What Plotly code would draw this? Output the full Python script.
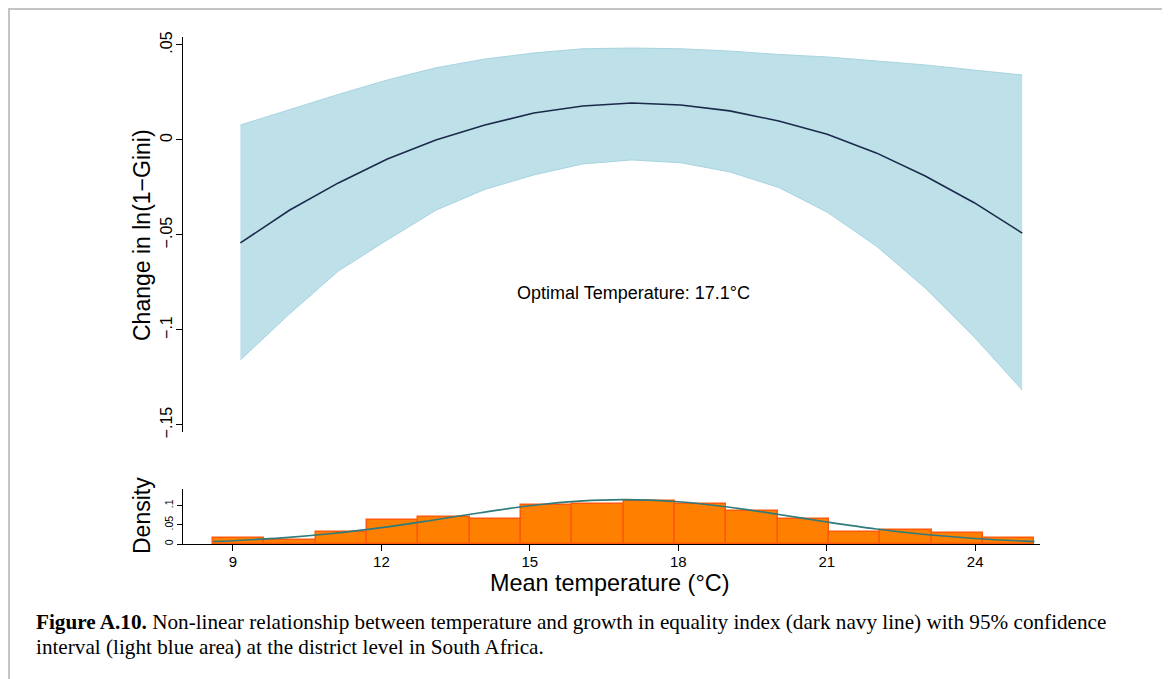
import plotly.graph_objects as go

# ---- data ----
temp = [9.15, 10.14, 11.13, 12.12, 13.10, 14.09, 15.08, 16.07, 17.06,
        18.05, 19.04, 20.03, 21.01, 22.00, 22.99, 23.98, 24.95]
effect = [-0.0542, -0.0370, -0.0226, -0.0100, 0.0000, 0.0079, 0.0142, 0.0179, 0.0195,
          0.0184, 0.0153, 0.0100, 0.0030, -0.0068, -0.0190, -0.0330, -0.0490]
upper = [0.0079, 0.0160, 0.0240, 0.0316, 0.0380, 0.0426, 0.0458, 0.0480, 0.0484,
         0.0480, 0.0468, 0.0450, 0.0437, 0.0416, 0.0395, 0.0368, 0.0342]
lower = [-0.1158, -0.0916, -0.0690, -0.0526, -0.0370, -0.0260, -0.0184, -0.0126, -0.0105,
         -0.0120, -0.0168, -0.0250, -0.0380, -0.0558, -0.0779, -0.1037, -0.1316]

bin_start = 8.6
bin_width = 1.037
hist_density = [0.0148, 0.0096, 0.032, 0.061, 0.069, 0.0655, 0.1017, 0.104,
                0.112, 0.104, 0.0864, 0.065, 0.032, 0.035, 0.028, 0.015]

curve_x = [8.6, 9, 10, 11, 12, 13, 14, 15, 16, 16.9, 18, 19, 20, 21, 22, 23, 24, 25, 25.2]
curve_y = [0.0066, 0.0086, 0.0159, 0.0271, 0.0424, 0.0611, 0.0811, 0.099, 0.111, 0.115,
           0.1094, 0.0958, 0.0772, 0.0572, 0.039, 0.0245, 0.0142, 0.0075, 0.0066]

y_ticks = [0.05, 0.0, -0.05, -0.1, -0.15]
y_ticktext = [".05", "0", "\u2212.05", "\u2212.1", "\u2212.15"]
d_ticks = [0, 0.05, 0.1]
d_ticktext = ["0", ".05", ".1"]
x_ticks = [9, 12, 15, 18, 21, 24]

optimal_temp = 17.1

# ---- figure geometry (screen pixels; page body adds an 8px offset) ----
W, H = 1170, 679
OFF = 8
AX_L, AX_R, AX_T, AX_B = 183, 1040, 37, 544   # screen coords of plot area
ML = AX_L - OFF
MT = AX_T - OFF
PW = AX_R - AX_L
PH = AX_B - AX_T
MR = W - ML - PW
MB = H - MT - PH

def px(x):
    return (x - AX_L) / PW

def py(y):
    return (AX_B - y) / PH

FILL = "#bde0e9"
EDGE = "#a8d4e1"
NAVY = "#1b2a4a"
ORANGE = "#ff8000"
ORANGE_EDGE = "#ff5a0a"
TEAL = "#2f7b7b"
SANS = "Liberation Sans, Arial, sans-serif"
SERIF = "Liberation Serif, Times New Roman, serif"

fig = go.Figure()

# confidence band
fig.add_trace(go.Scatter(x=temp, y=upper, mode="lines",
                         line=dict(color=EDGE, width=1), hoverinfo="skip",
                         showlegend=False, xaxis="x", yaxis="y"))
fig.add_trace(go.Scatter(x=temp, y=lower, mode="lines", fill="tonexty",
                         fillcolor=FILL, line=dict(color=EDGE, width=1),
                         showlegend=False, xaxis="x", yaxis="y"))
fig.add_trace(go.Scatter(x=temp, y=effect, mode="lines",
                         line=dict(color=NAVY, width=1.6),
                         showlegend=False, xaxis="x", yaxis="y"))

# histogram
centers = [bin_start + bin_width * (i + 0.5) for i in range(len(hist_density))]
fig.add_trace(go.Bar(x=centers, y=hist_density, width=bin_width,
                     marker=dict(color=ORANGE, line=dict(color=ORANGE_EDGE, width=1.5)),
                     showlegend=False, xaxis="x2", yaxis="y2"))
fig.add_trace(go.Scatter(x=curve_x, y=curve_y, mode="lines",
                         line=dict(color=TEAL, width=1.6, shape="spline"),
                         showlegend=False, xaxis="x2", yaxis="y2"))

xrange = [7.99, 25.31]
top_dom = [py(432), 1.0]
bot_dom = [0.0, py(489)]

fig.update_layout(
    width=W, height=H,
    margin=dict(l=ML, r=MR, t=MT, b=MB, autoexpand=False),
    paper_bgcolor="white", plot_bgcolor="white",
    font=dict(family=SANS, color="black"),
    bargap=0,
    xaxis=dict(domain=[0, 1], range=xrange, visible=False, anchor="y"),
    yaxis=dict(domain=top_dom, range=[-0.1537, 0.0542], tickvals=y_ticks,
               ticktext=y_ticktext, tickangle=-90, ticks="outside", ticklen=6,
               tickcolor="black", showline=True, linecolor="black", linewidth=1.3,
               showgrid=False, zeroline=False, tickfont=dict(size=16, family=SANS),
               ticklabelstandoff=-3, anchor="x"),
    xaxis2=dict(domain=[0, 1], range=xrange, tickvals=x_ticks, ticks="outside",
                ticklen=6, tickcolor="black", showline=True, linecolor="black",
                linewidth=1.3, showgrid=False, zeroline=False,
                tickfont=dict(size=15, family=SANS), ticklabelstandoff=-2,
                anchor="y2"),
    yaxis2=dict(domain=bot_dom, range=[0, 0.1425], tickvals=d_ticks,
                ticktext=d_ticktext, tickangle=-90, ticks="outside", ticklen=5,
                tickcolor="black", showline=True, linecolor="black", linewidth=1.3,
                showgrid=False, zeroline=False, tickfont=dict(size=10.5, family=SANS),
                ticklabelstandoff=0, anchor="x2"),
)

def ann(text, x, y, size, family=SANS, angle=0, xanchor="center", xref="paper", yref="paper"):
    return dict(text=text, x=x, y=y, xref=xref, yref=yref, textangle=angle,
                xanchor=xanchor, yanchor="middle", showarrow=False,
                font=dict(size=size, family=family, color="black"))

anns = [
    ann("Optimal Temperature: 17.1°C", optimal_temp, -0.0805, 18, xref="x", yref="y"),
    ann("Change in ln(1\u2212Gini)", px(142), py(235), 23, angle=-90),
    ann("Density", px(142), py(516), 23, angle=-90),
    ann("Mean temperature (°C)", px(609), py(583), 23.4),
    ann("<b>Figure A.10.</b> Non-linear relationship between temperature and growth in equality index (dark navy line) with 95% confidence",
        px(34), py(622), 21.2, family=SERIF, xanchor="left"),
    ann("interval (light blue area) at the district level in South Africa.",
        px(34), py(647), 21.2, family=SERIF, xanchor="left"),
]
fig.update_layout(annotations=anns)

# light grey frame around the figure
fig.add_shape(type="rect", xref="paper", yref="paper",
              x0=px(9), x1=px(1163), y0=py(720), y1=py(9),
              line=dict(color="#c4c4c4", width=2), layer="above")

fig.write_html("out.html")
